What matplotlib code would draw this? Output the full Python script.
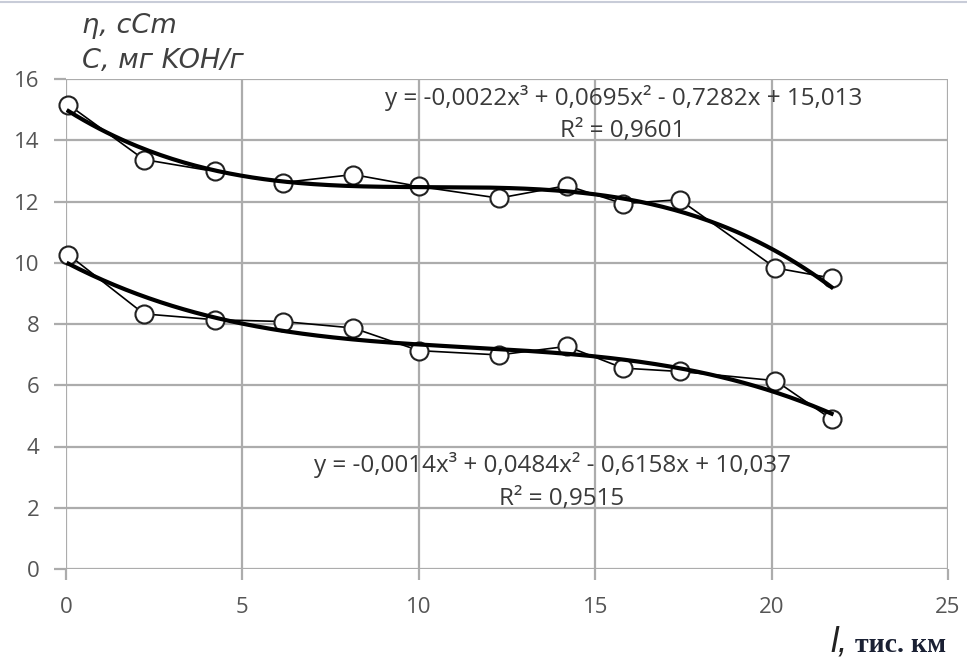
import numpy as np
import matplotlib.pyplot as plt
from matplotlib.lines import Line2D

# distance, thousand km
dist = [0.07, 2.21, 4.22, 6.16, 8.14, 10.01, 12.27, 14.2, 15.79, 17.39, 20.11, 21.7]
# viscosity, cSt
visc = [15.16, 13.37, 12.98, 12.62, 12.88, 12.49, 12.11, 12.52, 11.93, 12.06, 9.83, 9.5]
# acid number, mg KOH/g
acid = [10.26, 8.33, 8.14, 8.08, 7.87, 7.13, 6.99, 7.27, 6.56, 6.45, 6.15, 4.89]

eq_visc = "y = -0,0022x³ + 0,0695x² - 0,7282x + 15,013"
r2_visc = "R² = 0,9601"
eq_acid = "y = -0,0014x³ + 0,0484x² - 0,6158x + 10,037"
r2_acid = "R² = 0,9515"

xticks = [0, 5, 10, 15, 20, 25]
yticks = [0, 2, 4, 6, 8, 10, 12, 14, 16]

fig = plt.figure(figsize=(9.67, 6.69), dpi=100)
ax = fig.add_axes([66 / 967, 1 - 569 / 669, (948 - 66) / 967, (569 - 79) / 669])

grid_c = "#acacac"
txt_c = "#3a3a3a"

for s in ax.spines.values():
    s.set_visible(False)
ax.set_xlim(0, 25)
ax.set_ylim(0, 16)
ax.set_xticks(xticks)
ax.set_yticks(yticks)
ax.grid(True, color=grid_c, linewidth=1.6)
ax.set_axisbelow(True)
ax.tick_params(axis="both", color=grid_c, width=1.6, labelcolor="#555555",
               labelsize=16)
ax.tick_params(axis="y", length=9, pad=10)
ax.tick_params(axis="x", length=8, pad=12)
for lab in ax.get_xticklabels() + ax.get_yticklabels():
    lab.set_fontfamily("Open Sans")

x = np.array(dist)
xx = np.linspace(x.min(), x.max(), 200)
for y in (visc, acid):
    ax.plot(dist, y, color="black", linewidth=1.2, marker="o", markersize=13,
            markerfacecolor="white", markeredgecolor="#222222",
            markeredgewidth=1.5, zorder=3, clip_on=False)
    coef = np.polyfit(x, y, 3)
    ax.plot(xx, np.polyval(coef, xx), color="black", linewidth=3.0, zorder=4)

eq_font = dict(fontsize=17.5, color=txt_c, family="Open Sans", ha="center", va="center")
fig.text(624 / 967, 1 - 98 / 669, eq_visc, **eq_font)
fig.text(623 / 967, 1 - 131 / 669, r2_visc, **eq_font)
fig.text(553 / 967, 1 - 465 / 669, eq_acid, **eq_font)
fig.text(562 / 967, 1 - 499 / 669, r2_acid, **eq_font)

# axis captions
cap_font = dict(fontsize=19.5, style="italic", family="DejaVu Sans",
                color="#404040", va="baseline")
fig.text(82 / 967, 1 - 33 / 669, "η, cCm", **cap_font)
fig.text(82 / 967, 1 - 68 / 669, "С, мг KOH/г", **cap_font)
fig.text(830 / 967, 1 - 652 / 669, "l,", fontsize=25, style="italic",
         family="Liberation Sans", color="#222222", va="baseline")
fig.text(855 / 967, 1 - 652 / 669, "тис. км", fontsize=20, weight="bold",
         family="Liberation Serif", color="#1a2033", va="baseline")

# thin frame line at the top of the picture
fig.add_artist(Line2D([0, 1], [1 - 2 / 669, 1 - 2 / 669], color="#c8ccd8",
                      linewidth=1.5, transform=fig.transFigure))

fig.savefig("out.png", dpi=100)
